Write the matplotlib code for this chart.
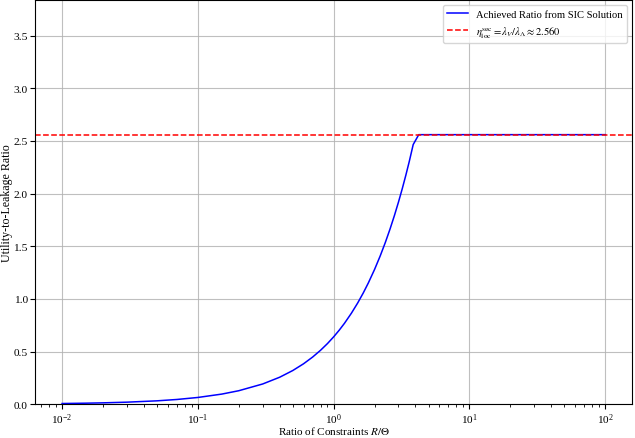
import matplotlib
matplotlib.use("Agg")
import matplotlib.pyplot as plt

plt.rcParams['font.family'] = 'serif'
plt.rcParams['font.serif'] = ['Liberation Serif', 'DejaVu Serif']
plt.rcParams['mathtext.fontset'] = 'stix'
plt.rcParams['font.size'] = 8.6

# Ratio of constraints R/Theta
ratio = [0.01, 0.015, 0.02, 0.03, 0.05, 0.07, 0.1, 0.15, 0.2, 0.3, 0.4, 0.5,
         0.6, 0.7, 0.8, 0.9, 1.0, 1.1, 1.2, 1.35, 1.5, 1.65, 1.8, 2.0, 2.2,
         2.4, 2.6, 2.8, 3.0, 3.2, 3.4, 3.6, 3.85, 4.23, 10.0, 100.0]
# Achieved utility-to-leakage ratio
achieved = [0.0064, 0.0096, 0.0128, 0.0192, 0.032, 0.0448, 0.064, 0.096,
            0.128, 0.192, 0.256, 0.32, 0.384, 0.448, 0.512, 0.576, 0.64,
            0.704, 0.768, 0.864, 0.96, 1.056, 1.152, 1.28, 1.408, 1.536,
            1.664, 1.792, 1.92, 2.048, 2.176, 2.304, 2.466, 2.56, 2.56, 2.56]
eta_loc = 2.560

fig, ax = plt.subplots(figsize=(6.35, 4.39), dpi=100)
ax.plot(ratio, achieved, color='blue', lw=1.1,
        label='Achieved Ratio from SIC Solution')
ax.axhline(eta_loc, color='red', ls='--', lw=1.1,
           label=r'$\eta_{\mathrm{loc}}^{\mathrm{sec}} = \lambda_V/\lambda_\Lambda \approx 2.560$')
ax.set_xscale('log')
ax.set_xlim(10**-2.2, 10**2.2)
ax.set_ylim(0, eta_loc * 1.5)
ax.grid(True, which='major', color='#b0b0b0', lw=0.8, alpha=0.8)
ax.tick_params(which='major', length=3.5, pad=1.5, labelsize=8.2)
ax.tick_params(which='minor', length=2)
ax.set_xlabel(r'Ratio of Constraints $R/\Theta$', fontsize=8.0)
ax.set_ylabel('Utility-to-Leakage Ratio', fontsize=8.6)
ax.xaxis.set_label_coords(0.5, -0.050)
ax.yaxis.set_label_coords(-0.036, 0.5)
ax.legend(loc='upper right', handlelength=2.0, fontsize=7.6)
fig.subplots_adjust(left=0.055, right=0.996, bottom=0.077, top=0.998)
fig.savefig('out.png', dpi=100)
